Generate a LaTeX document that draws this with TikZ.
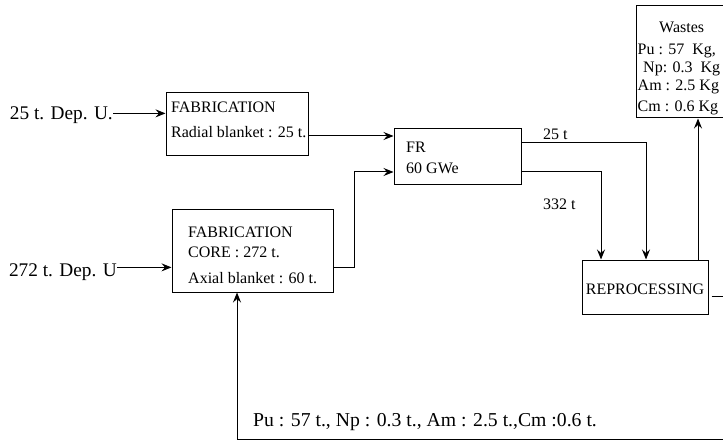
\documentclass[tikz,border=0pt]{standalone}
\usepackage{fontspec}
\setmainfont{Liberation Serif}
\usetikzlibrary{arrows.meta}
\begin{document}
\begin{tikzpicture}[x=1pt,y=-1pt,
  box/.style={draw, line width=1pt, inner sep=0pt},
  tsm/.style={font=\fontsize{16}{19}\selectfont, inner sep=0pt},
  tbig/.style={font=\fontsize{19.3}{23}\selectfont, inner sep=0pt},
  tbot/.style={font=\fontsize{19.7}{23}\selectfont, inner sep=0pt},
  conn/.style={line width=1pt},
  arr/.style={conn, -{Stealth[length=10pt,width=8pt,inset=3.5pt]}}]
\useasboundingbox (0,0) rectangle (723,441);
\clip (0,0) rectangle (723,441);
% boxes
\node[box, minimum width=142pt, minimum height=63pt] (fab1) at (237,124.5) {};
\node[box, minimum width=161pt, minimum height=83pt] (fab2) at (252.5,250.5) {};
\node[box, minimum width=127pt, minimum height=55pt] (fr) at (457.5,156.5) {};
\node[box, minimum width=126pt, minimum height=54pt] (reproc) at (645,287) {};
\node[box, minimum width=92pt, minimum height=112pt] (wastes) at (682.5,62) {};
% texts
\node[tbig, anchor=base east] (lab1) at (113,120) {25 t. Dep. U.};
\node[tbig, anchor=base east] (lab2) at (117,276) {272 t. Dep. U};
\node[tsm, anchor=base west] (f1a) at (171,113) {FABRICATION};
\node[tsm, anchor=base west] (f1b) at (171,138) {Radial blanket : 25 t.};
\node[tsm, anchor=base west] (f2a) at (188,237) {FABRICATION};
\node[tsm, anchor=base west] (f2b) at (188,257) {CORE : 272 t.};
\node[tsm, anchor=base west] (f2c) at (188,283) {Axial blanket : 60 t.};
\node[tsm, anchor=base west] (fra) at (406,153) {FR};
\node[tsm, anchor=base west] (frb) at (406,173) {60 GWe};
\node[tsm, anchor=base west] (l25) at (543,139.5) {25 t};
\node[tsm, anchor=base west] (l332) at (543,209) {332 t};
\node[tsm, anchor=base] (rpt) at (645,294) {REPROCESSING};
\node[tsm, anchor=base west] (w0) at (659,33) {Wastes};
\node[tsm, anchor=base west] (w1) at (637.5,55) {Pu : 57\ \ Kg,};
\node[tsm, anchor=base west] (w2) at (643,73) {Np: 0.3\ \ Kg};
\node[tsm, anchor=base west] (w3) at (637.5,91) {Am : 2.5 Kg};
\node[tsm, anchor=base west] (w4) at (637.5,111.5) {Cm : 0.6 Kg};
\node[tbot, anchor=base west] (bot) at (253,426) {Pu : 57 t., Np : 0.3 t., Am : 2.5 t.,Cm :0.6 t.};
% connectors
\draw[arr] ([yshift=2.3pt]lab1.east) -- ([yshift=2.3pt]lab1.east -| fab1.west);
\draw[arr] ([yshift=4.3pt]lab2.east) -- ([yshift=4.3pt]lab2.east -| fab2.west);
\draw[arr] ([yshift=-11.5pt]fab1.east) -- ([yshift=20.5pt]fr.west);
\draw[arr] ([yshift=-16.5pt]fab2.east) -- ++(21,0) |- ([yshift=-15.5pt]fr.west);
\draw[arr] ([yshift=13.5pt]fr.east) -| ([xshift=1pt]reproc.north);
\draw[arr] ([yshift=-15.5pt]fr.east) -| ([xshift=-44pt]reproc.north);
\draw[arr] ([xshift=53pt]reproc.north) -- ([xshift=53pt]reproc.north |- wastes.south);
\coordinate (rc) at (727,439);
\draw[arr] ([xshift=3pt,yshift=-9pt]reproc.east) -| (rc) -| ([xshift=-15.5pt]fab2.south);
\end{tikzpicture}
\end{document}
